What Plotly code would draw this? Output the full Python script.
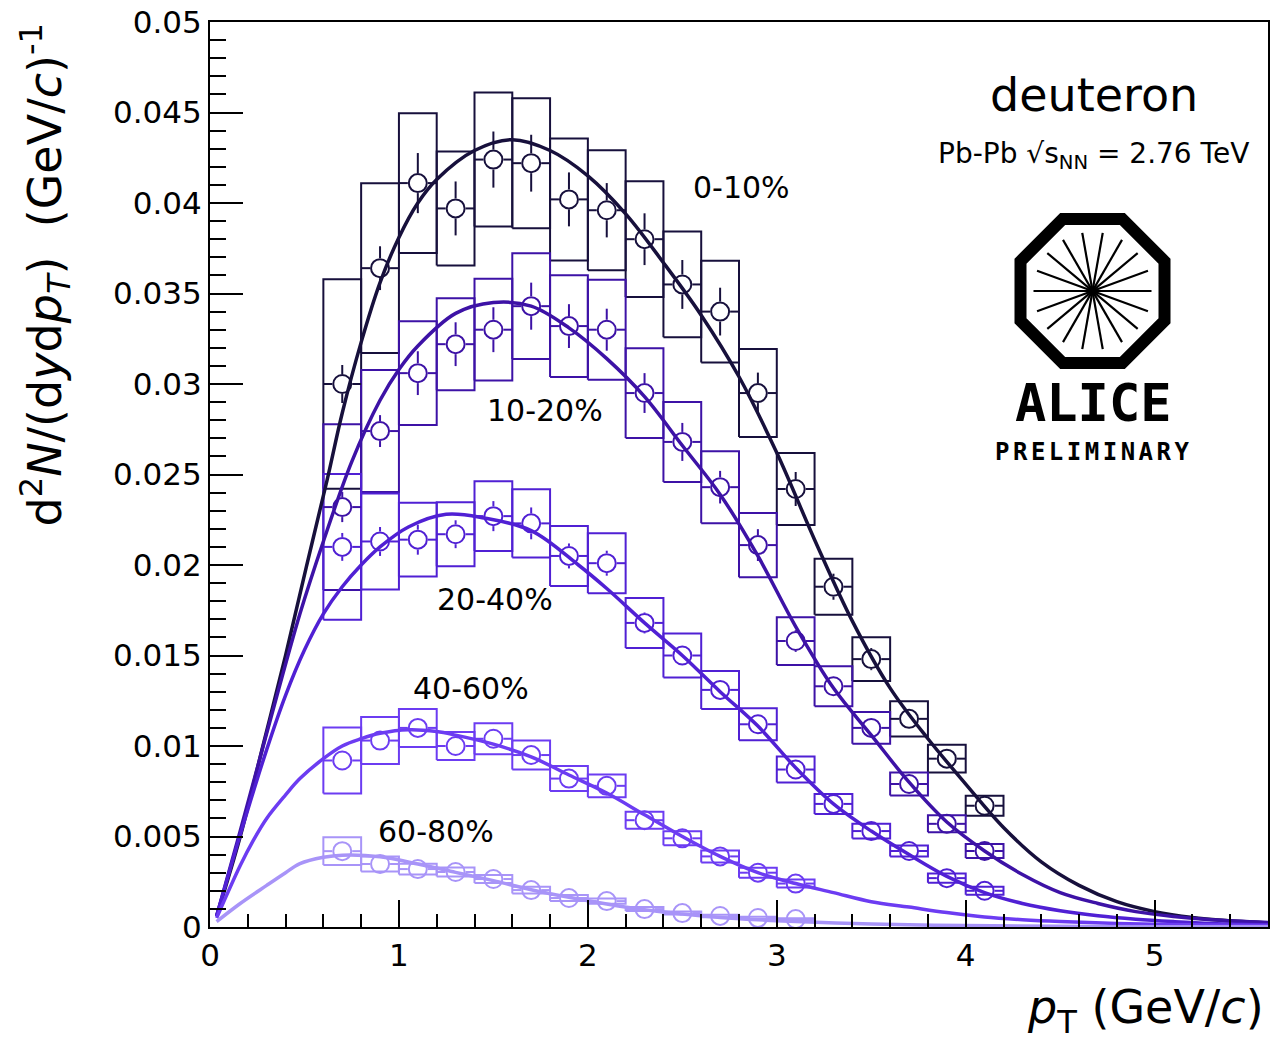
import math
import plotly.graph_objects as go

# ---------------------------------------------------------------------------
# Deuteron pT spectra in Pb-Pb collisions, five centrality classes
# ---------------------------------------------------------------------------
centralities = ["0-10%", "10-20%", "20-40%", "40-60%", "60-80%"]

# pT bin centres (GeV/c), bins are 0.2 GeV/c wide
pt_central = [0.7, 0.9, 1.1, 1.3, 1.5, 1.7, 1.9, 2.1, 2.3, 2.5, 2.7, 2.9,
              3.1, 3.3, 3.5, 3.7, 3.9, 4.1]
pt_peripheral = [0.7, 0.9, 1.1, 1.3, 1.5, 1.7, 1.9, 2.1, 2.3, 2.5, 2.7, 2.9, 3.1]
pt_bin_half = 0.1

# 0-10%
y_0_10 = [0.0300, 0.0364, 0.0411, 0.0397, 0.0424, 0.0422, 0.0402, 0.0396, 0.0380,
          0.0355, 0.0340, 0.0295, 0.0242, 0.0188, 0.0148, 0.0115, 0.0093, 0.0067]
stat_0_10 = [0.00105, 0.00121, 0.00166, 0.00149, 0.00155, 0.00157, 0.00149, 0.00150, 0.00143,
             0.00135, 0.00132, 0.00113, 0.00094, 0.00072, 0.00061, 0.00044, 0.00033, 0.00028]
syst_0_10 = [0.00579, 0.00469, 0.00386, 0.00315, 0.00370, 0.00359, 0.00337, 0.00331, 0.00320,
             0.00292, 0.00281, 0.00243, 0.00199, 0.00155, 0.00121, 0.00097, 0.00077, 0.00055]

# 10-20%
y_10_20 = [0.0232, 0.0274, 0.0306, 0.0322, 0.0330, 0.0343, 0.0332, 0.0330, 0.0295,
           0.0268, 0.0243, 0.0211, 0.0158, 0.0133, 0.0110, 0.0079, 0.0057, 0.0042]
stat_10_20 = [0.00083, 0.00088, 0.00121, 0.00121, 0.00124, 0.00130, 0.00121, 0.00116, 0.00110,
              0.00105, 0.00090, 0.00088, 0.00060, 0.00055, 0.00050, 0.00035, 0.00028, 0.00022]
syst_10_20 = [0.00458, 0.00337, 0.00287, 0.00254, 0.00281, 0.00292, 0.00281, 0.00276, 0.00248,
              0.00221, 0.00199, 0.00177, 0.00132, 0.00110, 0.00088, 0.00063, 0.00047, 0.00039]

# 20-40%
y_20_40 = [0.0210, 0.0213, 0.0214, 0.0217, 0.0227, 0.0223, 0.0205, 0.0201, 0.0168,
           0.0150, 0.0131, 0.0112, 0.0087, 0.0068, 0.0053, 0.0042, 0.0027, 0.0020]
stat_20_40 = [0.00077, 0.00080, 0.00083, 0.00077, 0.00083, 0.00088, 0.00069, 0.00069, 0.00058,
              0.00055, 0.00050, 0.00044, 0.00040, 0.00033, 0.00028, 0.00022, 0.00017, 0.00014]
syst_20_40 = [0.00403, 0.00265, 0.00204, 0.00177, 0.00193, 0.00188, 0.00166, 0.00166, 0.00138,
              0.00121, 0.00105, 0.00088, 0.00072, 0.00055, 0.00041, 0.00030, 0.00025, 0.00022]

# 40-60%
y_40_60 = [0.0092, 0.0103, 0.0110, 0.0100, 0.0104, 0.0095, 0.0082, 0.0078, 0.0059,
           0.0049, 0.0039, 0.0030, 0.0024]
stat_40_60 = [0.00045, 0.00045, 0.00048, 0.00045, 0.00045, 0.00045, 0.00040, 0.00040, 0.00035,
              0.00030, 0.00025, 0.00020, 0.00018]
syst_40_60 = [0.00182, 0.00130, 0.00105, 0.00077, 0.00086, 0.00080, 0.00069, 0.00063, 0.00047,
              0.00039, 0.00033, 0.00028, 0.00022]

# 60-80%
y_60_80 = [0.00419, 0.00348, 0.00320, 0.00304, 0.00265, 0.00204, 0.00160, 0.00143, 0.00099,
           0.00077, 0.00061, 0.00050, 0.00044]
stat_60_80 = [0.00030, 0.00025, 0.00025, 0.00022, 0.00020, 0.00018, 0.00015, 0.00014, 0.00012,
              0.00010, 0.00009, 0.00008, 0.00007]
syst_60_80 = [0.00077, 0.00041, 0.00030, 0.00025, 0.00022, 0.00019, 0.00017, 0.00014, 0.00011,
              0.00008, 0.00007, 0.00006, 0.00005]

# Fitted spectral shapes, sampled along pT
fit_x_0_10 = [0.035, 0.16, 0.28, 0.40, 0.51, 0.62, 0.70, 0.80, 0.90, 1.00, 1.10, 1.20, 1.40,
              1.60, 1.80, 2.00, 2.20, 2.40, 2.60, 2.80, 3.00, 3.20, 3.40, 3.60, 3.80, 4.00,
              4.20, 4.40, 4.60, 4.80, 5.00, 5.20, 5.40, 5.60]
fit_y_0_10 = [0.0006, 0.0050, 0.0100, 0.0150, 0.0199, 0.0247, 0.0284, 0.0323, 0.0356, 0.0381,
              0.0400, 0.0413, 0.0429, 0.0435, 0.0429, 0.0415, 0.0394, 0.0367, 0.0338, 0.0304,
              0.0262, 0.0214, 0.0169, 0.0132, 0.0104, 0.0079, 0.0055, 0.0036, 0.0023, 0.0014,
              0.00085, 0.00052, 0.00034, 0.00022]

fit_x_10_20 = [0.035, 0.16, 0.30, 0.476, 0.60, 0.75, 0.90, 1.00, 1.10, 1.30, 1.50, 1.70, 1.90,
               2.10, 2.30, 2.50, 2.70, 2.90, 3.10, 3.30, 3.50, 3.70, 3.90, 4.10, 4.30, 4.50,
               4.70, 4.90, 5.10, 5.30, 5.60]
fit_y_10_20 = [0.0006, 0.0053, 0.0107, 0.0173, 0.0213, 0.0257, 0.0291, 0.0308, 0.0321, 0.0339,
               0.0345, 0.0343, 0.0331, 0.0314, 0.0293, 0.0266, 0.0239, 0.0205, 0.0166, 0.0132,
               0.0106, 0.0080, 0.0058, 0.0042, 0.0029, 0.0019, 0.0013, 0.00085, 0.00058, 0.00040,
               0.00025]

fit_x_20_40 = [0.035, 0.16, 0.30, 0.40, 0.50, 0.60, 0.70, 0.80, 0.90, 1.05, 1.25, 1.45, 1.70,
               1.95, 2.10, 2.30, 2.50, 2.70, 2.90, 3.10, 3.30, 3.50, 3.70, 3.90, 4.10, 4.30,
               4.50, 4.70, 4.90, 5.10, 5.30, 5.60]
fit_y_20_40 = [0.0006, 0.0051, 0.0098, 0.0128, 0.0153, 0.0173, 0.0188, 0.0200, 0.0210, 0.0221,
               0.0228, 0.0226, 0.0219, 0.0200, 0.0187, 0.0168, 0.0150, 0.0130, 0.0111, 0.0088,
               0.0068, 0.0053, 0.0040, 0.0028, 0.0019, 0.0013, 0.00090, 0.00062, 0.00043,
               0.00030, 0.00020, 0.00013]

fit_x_40_60 = [0.035, 0.16, 0.23, 0.30, 0.40, 0.476, 0.60, 0.70, 0.80, 0.90, 1.05, 1.20, 1.30,
               1.50, 1.70, 1.90, 2.10, 2.30, 2.50, 2.70, 2.90, 3.10, 3.30, 3.50, 3.70, 3.90,
               4.10, 4.30, 4.50, 4.80, 5.20, 5.60]
fit_y_40_60 = [0.0005, 0.0034, 0.0048, 0.0060, 0.0073, 0.0082, 0.0093, 0.0100, 0.0104, 0.0107,
               0.0109, 0.0108, 0.0106, 0.0101, 0.0094, 0.0084, 0.0074, 0.0062, 0.0050, 0.0039,
               0.0030, 0.0024, 0.0019, 0.0014, 0.0011, 0.0008, 0.00055, 0.00040, 0.00030,
               0.00020, 0.00012, 0.00008]

fit_x_60_80 = [0.035, 0.16, 0.30, 0.40, 0.476, 0.60, 0.70, 0.90, 1.10, 1.30, 1.50, 1.70, 1.90,
               2.10, 2.30, 2.50, 2.70, 2.90, 3.10, 3.50, 4.00, 4.50, 5.00, 5.60]
fit_y_60_80 = [0.0003, 0.0013, 0.0023, 0.0030, 0.0035, 0.00385, 0.00397, 0.00388, 0.00348,
               0.00302, 0.00256, 0.00206, 0.00164, 0.00127, 0.00095, 0.00072, 0.00053, 0.00040,
               0.00030, 0.00016, 0.00008, 0.00004, 0.00002, 0.00001]

# Axis tick labels
x_tick_vals = [0, 1, 2, 3, 4, 5]
x_tick_text = ["0", "1", "2", "3", "4", "5"]
y_tick_vals = [0, 0.005, 0.01, 0.015, 0.02, 0.025, 0.03, 0.035, 0.04, 0.045, 0.05]
y_tick_text = ["0", "0.005", "0.01", "0.015", "0.02", "0.025", "0.03", "0.035", "0.04",
               "0.045", "0.05"]

# ---------------------------------------------------------------------------
# Styling / geometry
# ---------------------------------------------------------------------------
colors = ["#17103c", "#3d12a6", "#5020d4", "#6c3cf2", "#a894f8"]
series = [
    (pt_central, y_0_10, stat_0_10, syst_0_10, fit_x_0_10, fit_y_0_10),
    (pt_central, y_10_20, stat_10_20, syst_10_20, fit_x_10_20, fit_y_10_20),
    (pt_central, y_20_40, stat_20_40, syst_20_40, fit_x_20_40, fit_y_20_40),
    (pt_peripheral, y_40_60, stat_40_60, syst_40_60, fit_x_40_60, fit_y_40_60),
    (pt_peripheral, y_60_80, stat_60_80, syst_60_80, fit_x_60_80, fit_y_60_80),
]

W, H = 1283, 1047
M_L, M_R, M_T, M_B = 210, 15, 22, 120
X_RANGE = [0, 5.6]
Y_RANGE = [0, 0.05]
PLOT_W = W - M_L - M_R
PLOT_H = H - M_T - M_B
X_PX = PLOT_W / (X_RANGE[1] - X_RANGE[0])   # pixels per GeV/c
Y_PX = PLOT_H / (Y_RANGE[1] - Y_RANGE[0])   # pixels per unit of yield
MARKER_SIZE = 18
GAP_PX = 10   # error bars start at the rim of the open circle

FONT = "DejaVu Sans"


def paper_x(px):
    return (px - M_L) / PLOT_W


def paper_y(py):
    return (H - M_B - py) / PLOT_H


def syst_boxes(xs, ys, errs):
    bx, by = [], []
    for x, y, e in zip(xs, ys, errs):
        bx += [x - pt_bin_half, x + pt_bin_half, x + pt_bin_half, x - pt_bin_half,
               x - pt_bin_half, None]
        by += [y - e, y - e, y + e, y + e, y - e, None]
    return bx, by


def stat_bars(xs, ys, errs):
    gx = GAP_PX / X_PX
    gy = GAP_PX / Y_PX
    sx, sy = [], []
    for x, y, e in zip(xs, ys, errs):
        sx += [x - pt_bin_half, x - gx, None, x + gx, x + pt_bin_half, None]
        sy += [y, y, None, y, y, None]
        if e > gy:
            sx += [x, x, None, x, x, None]
            sy += [y + gy, y + e, None, y - gy, y - e, None]
    return sx, sy


fig = go.Figure()

# systematic uncertainty boxes
for (xs, ys, st, sy_, fx, fy), col, name in zip(series, colors, centralities):
    bx, by = syst_boxes(xs, ys, sy_)
    fig.add_trace(go.Scatter(x=bx, y=by, mode="lines", line=dict(color=col, width=2),
                             hoverinfo="skip", showlegend=False, name=name + " syst"))

# statistical error bars and bin widths
for (xs, ys, st, sy_, fx, fy), col, name in zip(series, colors, centralities):
    ex, ey = stat_bars(xs, ys, st)
    fig.add_trace(go.Scatter(x=ex, y=ey, mode="lines", line=dict(color=col, width=2),
                             hoverinfo="skip", showlegend=False, name=name + " stat"))

# data points
for (xs, ys, st, sy_, fx, fy), col, name in zip(series, colors, centralities):
    fig.add_trace(go.Scatter(x=xs, y=ys, mode="markers",
                             marker=dict(symbol="circle-open", size=MARKER_SIZE, color=col,
                                         line=dict(width=2, color=col)),
                             showlegend=False, name=name))

# fit curves
for (xs, ys, st, sy_, fx, fy), col, name in zip(series, colors, centralities):
    fig.add_trace(go.Scatter(x=fx, y=fy, mode="lines",
                             line=dict(color=col, width=3.5, shape="spline", smoothing=1.0),
                             hoverinfo="skip", showlegend=False, name=name + " fit"))

# centrality labels
label_pos = [(2.811, 0.04083), (1.771, 0.02851), (1.506, 0.01807), (1.382, 0.01320),
             (1.196, 0.00525)]
annotations = []
for name, (lx, ly) in zip(centralities, label_pos):
    annotations.append(dict(x=lx, y=ly, xref="x", yref="y", text=name, showarrow=False,
                            xanchor="center", yanchor="middle",
                            font=dict(family=FONT, size=30, color="black")))

# axis titles
annotations.append(dict(
    x=paper_x(45), y=1.0, xref="paper", yref="paper", textangle=-90,
    xanchor="center", yanchor="top", showarrow=False,
    text="d<sup>2</sup><i>N</i>/(d<i>y</i>d<i>p</i><sub><i>T</i></sub>)\u00a0\u00a0(GeV/<i>c</i>)<sup>-1</sup>",
    font=dict(family=FONT, size=46, color="black")))
annotations.append(dict(
    x=paper_x(1266), y=paper_y(1010), xref="paper", yref="paper",
    xanchor="right", yanchor="middle", showarrow=False,
    text="<i>p</i><sub>T</sub> (GeV/<i>c</i>)",
    font=dict(family=FONT, size=46, color="black")))

# particle / system
annotations.append(dict(x=paper_x(1094), y=paper_y(95), xref="paper", yref="paper",
                        text="deuteron", showarrow=False, xanchor="center", yanchor="middle",
                        font=dict(family=FONT, size=46, color="black")))
annotations.append(dict(x=paper_x(1093), y=paper_y(155), xref="paper", yref="paper",
                        text="Pb-Pb \u221as<sub>NN</sub> = 2.76 TeV", showarrow=False,
                        xanchor="center", yanchor="middle",
                        font=dict(family=FONT, size=28, color="black")))

# collaboration logo text
annotations.append(dict(x=paper_x(1093), y=paper_y(403), xref="paper", yref="paper",
                        text="<b>ALICE</b>", showarrow=False, xanchor="center",
                        yanchor="middle",
                        font=dict(family="DejaVu Sans Mono", size=52, color="black")))
annotations.append(dict(x=paper_x(1093), y=paper_y(452), xref="paper", yref="paper",
                        text="<b><span style='letter-spacing:3.5px'>PRELIMINARY</span></b>",
                        showarrow=False, xanchor="center", yanchor="middle",
                        font=dict(family="DejaVu Sans Mono", size=24, color="black")))

# collaboration logo graphic: octagon with radial spokes
logo_cx, logo_cy = paper_x(1092.5), paper_y(291)
apothem = 72
circum = apothem / math.cos(math.pi / 8)
pts = []
for k in range(8):
    a = math.pi / 8 + k * math.pi / 4
    pts.append((circum * math.cos(a), circum * math.sin(a)))
octagon_path = "M " + " L ".join(f"{px_:.2f},{py_:.2f}" for px_, py_ in pts) + " Z"
shapes = [dict(type="path", xref="paper", yref="paper", xsizemode="pixel",
               ysizemode="pixel", xanchor=logo_cx, yanchor=logo_cy, path=octagon_path,
               line=dict(color="black", width=12), fillcolor="rgba(0,0,0,0)", layer="above")]
spoke_r = 59
for k in range(9):
    a = k * math.pi / 9
    dx, dy = spoke_r * math.cos(a), spoke_r * math.sin(a)
    shapes.append(dict(type="line", xref="paper", yref="paper", xsizemode="pixel",
                       ysizemode="pixel", xanchor=logo_cx, yanchor=logo_cy,
                       x0=-dx, x1=dx, y0=-dy, y1=dy,
                       line=dict(color="black", width=2.2), layer="above"))

axis_common = dict(showline=True, linecolor="black", linewidth=2, mirror=True,
                   showgrid=False, zeroline=False, ticks="inside", tickwidth=2,
                   tickcolor="black", tickfont=dict(family=FONT, size=31, color="black"))

fig.update_layout(
    width=W, height=H,
    margin=dict(l=M_L, r=M_R, t=M_T, b=M_B, autoexpand=False),
    paper_bgcolor="white", plot_bgcolor="white",
    showlegend=False,
    annotations=annotations,
    shapes=shapes,
    xaxis=dict(range=X_RANGE, tickmode="array", tickvals=x_tick_vals, ticktext=x_tick_text,
               ticklen=27,
               minor=dict(dtick=0.2, tick0=0, ticks="inside", ticklen=13, tickwidth=2,
                          tickcolor="black", showgrid=False),
               **axis_common),
    yaxis=dict(range=Y_RANGE, tickmode="array", tickvals=y_tick_vals, ticktext=y_tick_text,
               ticklen=33,
               minor=dict(dtick=0.001, tick0=0, ticks="inside", ticklen=16, tickwidth=2,
                          tickcolor="black", showgrid=False),
               **axis_common),
)

fig.write_html("out.html")
